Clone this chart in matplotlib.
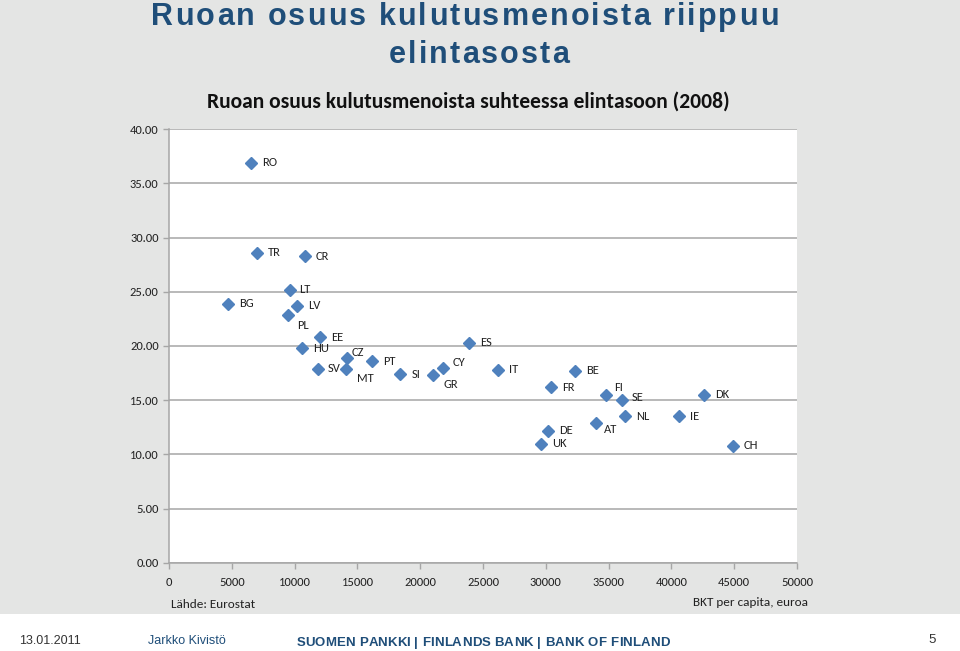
import matplotlib
matplotlib.use("Agg")
import matplotlib.pyplot as plt

# BKT per capita (euroa) and ruoan osuus kulutusmenoista (%), 2008
countries = ["RO", "TR", "CR", "LT", "BG", "LV", "PL", "EE", "HU", "CZ",
             "PT", "SV", "MT", "SI", "GR", "CY", "ES", "IT", "FR", "DE",
             "UK", "BE", "FI", "SE", "DK", "NL", "IE", "AT", "CH"]
gdp = [6500, 7000, 10800, 9600, 4700, 10200, 9500, 12000, 10600, 14200,
       16200, 11900, 14100, 18400, 21000, 21800, 23900, 26200, 30400, 30200,
       29600, 32300, 34800, 36100, 42600, 36300, 40600, 34000, 44900]
food_share = [36.9, 28.6, 28.3, 25.2, 23.9, 23.7, 22.9, 20.8, 19.8, 18.9,
              18.6, 17.9, 17.9, 17.4, 17.3, 18.0, 20.3, 17.8, 16.2, 12.2,
              11.0, 17.7, 15.5, 15.0, 15.5, 13.5, 13.5, 12.9, 10.8]

yticks = [0, 5, 10, 15, 20, 25, 30, 35, 40]
xticks = [0, 5000, 10000, 15000, 20000, 25000, 30000, 35000, 40000, 45000, 50000]

# label nudges in points (dx, dy) relative to marker
label_offset = {"PL": (6, -8), "MT": (8, -7), "GR": (8, -7), "FI": (6, 5),
                "SE": (7, 2), "AT": (6, -5), "CZ": (3, 4), "CY": (7, 4),
                "SV": (7, 0), "LT": (7, 0)}

BG = "#e4e5e4"
BLUE = "#1f4e79"
MARKER = "#4f81bd"
GRID = "#a6a6a6"
body_font = ["Carlito", "Lato", "DejaVu Sans"]
narrow_font = ["Liberation Sans Narrow", "Liberation Sans", "DejaVu Sans"]
arial = ["Liberation Sans", "DejaVu Sans"]

W, H = 960, 651
fig = plt.figure(figsize=(W / 100, H / 100), dpi=100)
fig.patch.set_facecolor(BG)
renderer = fig.canvas.get_renderer()


def text_width(s, **kw):
    t = fig.text(0, 0, s, **kw)
    w = t.get_window_extent(renderer).width
    t.remove()
    return w


def tracked_text(xc, baseline, s, tracking, **kw):
    # letter-spaced text centred on xc (pixels), baseline in pixels from top
    ref = text_width("x", **kw)
    pos = [text_width(s[:i] + "x", **kw) - ref for i in range(len(s))]
    total = text_width(s, **kw) + tracking * (len(s) - 1)
    start = xc - total / 2
    for i, ch in enumerate(s):
        if ch == " ":
            continue
        fig.text((start + pos[i] + tracking * i) / W, 1 - baseline / H, ch,
                 ha="left", va="baseline", **kw)


# white footer band
band = fig.add_axes([0, 0, 1, (H - 614) / H])
band.set_facecolor("white")
band.set_xticks([])
band.set_yticks([])
for s in band.spines.values():
    s.set_visible(False)

x0, x1, y0, y1 = 169, 797, 562.7, 129.3
ax = fig.add_axes([x0 / W, (H - y0) / H, (x1 - x0) / W, (y0 - y1) / H])
ax.set_facecolor("white")
ax.set_xlim(0, 50000)
ax.set_ylim(0, 40)
ax.set_yticks(yticks)
ax.set_yticklabels(["%.2f" % v for v in yticks])
ax.set_xticks(xticks)
ax.set_xticklabels([str(v) for v in xticks])
ax.yaxis.grid(True, color=GRID, linewidth=1.1)
ax.set_axisbelow(True)
for side in ["top", "right"]:
    ax.spines[side].set_visible(False)
for side in ["left", "bottom"]:
    ax.spines[side].set_color(GRID)
    ax.spines[side].set_linewidth(1.1)
ax.tick_params(axis="both", colors=GRID, length=4, width=1, labelcolor="#222222",
               labelsize=9)
ax.tick_params(axis="x", pad=6)
for lab in ax.get_xticklabels() + ax.get_yticklabels():
    lab.set_fontfamily(body_font)

ax.plot(gdp, food_share, linestyle="none", marker="D", markersize=6,
        color=MARKER, clip_on=False)
for name, xv, yv in zip(countries, gdp, food_share):
    dx, dy = label_offset.get(name, (8, 0))
    ax.annotate(name, (xv, yv), xytext=(dx, dy), textcoords="offset points",
                ha="left", va="center", fontsize=9, family=body_font,
                color="#222222")

# titles
title_kw = dict(fontsize=22, fontweight="bold", color=BLUE, family=arial)
tracked_text(465, 25, "Ruoan osuus kulutusmenoista riippuu", 2.1, **title_kw)
tracked_text(479, 63, "elintasosta", 2.1, **title_kw)
fig.text(468 / W, 1 - 108 / H,
         "Ruoan osuus kulutusmenoista suhteessa elintasoon (2008)",
         ha="center", va="baseline", fontsize=15.5, fontweight="bold",
         color="#111111", family=body_font)

fig.text(171 / W, 1 - 604 / H, "Lähde: Eurostat", ha="left", va="center",
         fontsize=9.5, color="#222222", family=body_font)
fig.text(808 / W, 1 - 603 / H, "BKT per capita, euroa", ha="right",
         va="center", fontsize=9.5, color="#222222", family=body_font)

# footer
fig.text(19 / W, 1 - 641 / H, "13.01.2011", ha="left", va="center",
         fontsize=9, color="#333333", family=narrow_font)
fig.text(148 / W, 1 - 641 / H, "Jarkko Kivistö", ha="left", va="center",
         fontsize=9, color=BLUE, family=narrow_font)
tracked_text(483, 646, "SUOMEN PANKKI | FINLANDS BANK | BANK OF FINLAND", 0.2,
             fontsize=9.5, fontweight="bold", color=BLUE, family=arial)
fig.text(932 / W, 1 - 640 / H, "5", ha="center", va="center", fontsize=9.5,
         color="#333333", family=narrow_font)

fig.savefig("out.png", dpi=100, facecolor=fig.get_facecolor())
